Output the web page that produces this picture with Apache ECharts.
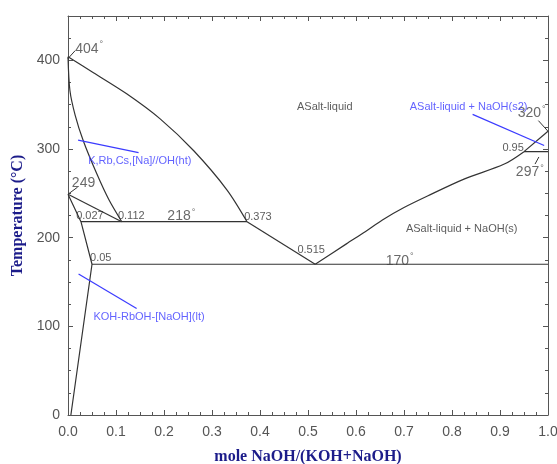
<!DOCTYPE html>
<html>
<head>
<meta charset="utf-8">
<script src="https://cdn.jsdelivr.net/npm/echarts@6/dist/echarts.min.js"></script>
<style>
  html, body { margin: 0; padding: 0; background: #fff; }
  #chart { width: 557px; height: 464px; }
</style>
</head>
<body>
<div id="chart"></div>
<script>
// phase boundaries, [mole fraction NaOH, temperature °C]
const liquidusK = [[0, 404], [0.053, 386], [0.123, 362], [0.192, 334], [0.262, 298], [0.331, 254], [0.373, 218]];
const liquidusMid = [[0.373, 218], [0.515, 170]];
const liquidusNa = [[0.515, 170], [0.58, 193], [0.62, 207], [0.655, 220], [0.70, 234], [0.749, 247], [0.825, 266], [0.909, 283], [0.95, 297]];
const liquidusNa2 = [[0.95, 297], [1.0, 320]];
const solidusHT = [[0, 404], [0.004, 366], [0.015, 338], [0.032, 309], [0.06, 272], [0.085, 243], [0.112, 218]];
const solvusHT = [[0, 249], [0.112, 218]];
const solvusLT = [[0, 249], [0.027, 218], [0.05, 170], [0.006, 0]];
const peritectic218 = [[0.027, 218], [0.373, 218]];
const eutectic170 = [[0.05, 170], [1.0, 170]];
const transition297 = [[0.95, 297], [1.0, 297]];

// leader lines for labels
const blackLeaders = [
  [[0, 402], [0.015, 411]],
  [[0, 249], [0.02, 257]],
  [[0.98, 332], [1.0, 320]],
  [[0.981, 291], [0.973, 283]]
];
const blueLeaders = [
  [[0.021, 310], [0.147, 296]],
  [[0.022, 159], [0.143, 120]],
  [[0.843, 339], [0.992, 304]]
];

// labels: [x, T, text]
const degreeLabels = [[0.015, 413, '404'], [0.207, 224, '218'], [0.662, 174, '170'], [0.933, 274, '297'], [0.937, 340, '320']];
const plainBigLabels = [[0.008, 262, '249']];
const fractionLabels = [[0.017, 224, '0.027'], [0.104, 224, '0.112'], [0.367, 223, '0.373'], [0.478, 186, '0.515'], [0.046, 177, '0.05'], [0.905, 301, '0.95']];
const regionLabels = [[0.477, 347, 'ASalt-liquid'], [0.704, 210, 'ASalt-liquid + NaOH(s)']];
const blueLabels = [[0.712, 347, 'ASalt-liquid + NaOH(s2)'], [0.042, 286, 'K,Rb,Cs,[Na]//OH(ht)'], [0.053, 111, 'KOH-RbOH-[NaOH](lt)']];

const xTicks = [0, 0.1, 0.2, 0.3, 0.4, 0.5, 0.6, 0.7, 0.8, 0.9, 1.0];
const yTicks = [0, 100, 200, 300, 400];

const FONT = '"Liberation Sans", Arial, sans-serif';
const SERIF = '"Liberation Serif", "DejaVu Serif", serif';
const LINE = '#333';
const BLUE = '#3b3bff';
const NAVY = '#1c1c8a';

const chart = echarts.init(document.getElementById('chart'));

const lineSeries = (data, color, width, smooth) => ({
  type: 'line',
  data: data,
  symbol: 'none',
  silent: true,
  smooth: smooth || false,
  lineStyle: { color: color || LINE, width: width || 1.2 },
  z: 2
});

const labelSeries = (rows, label) => ({
  type: 'scatter',
  symbolSize: 0,
  silent: true,
  data: rows.map(r => ({ value: [r[0], r[1]], name: r[2] })),
  label: Object.assign({ show: true, position: 'right', distance: 0 }, label),
  z: 5
});

const axisCommon = {
  type: 'value',
  axisLine: { show: true, onZero: false, lineStyle: { color: '#555', width: 1 } },
  axisTick: { show: true, inside: true, length: 5, lineStyle: { color: '#555' } },
  minorTick: { show: true, length: 3, splitNumber: 4, lineStyle: { color: '#555' } },
  splitLine: { show: false }
};

const series = [
  lineSeries(liquidusK, LINE, 1.2, 0.3),
  lineSeries(liquidusMid),
  lineSeries(liquidusNa, LINE, 1.2, 0.3),
  lineSeries(liquidusNa2),
  lineSeries(solidusHT, LINE, 1.2, 0.3),
  lineSeries(solvusHT),
  lineSeries(solvusLT),
  lineSeries(peritectic218),
  lineSeries(eutectic170),
  lineSeries(transition297)
];
blackLeaders.forEach(l => series.push(lineSeries(l, LINE, 1)));
blueLeaders.forEach(l => series.push(lineSeries(l, BLUE, 1.2)));

series.push(labelSeries(degreeLabels, {
  formatter: p => p.name + '{d|°}',
  fontFamily: FONT, fontSize: 14, color: '#444',
  rich: { d: { fontFamily: FONT, fontSize: 9, color: '#444', verticalAlign: 'top', padding: [0, 0, 8, 1] } }
}));
series.push(labelSeries(plainBigLabels, {
  formatter: p => p.name, fontFamily: FONT, fontSize: 14, color: '#444'
}));
series.push(labelSeries(fractionLabels, {
  formatter: p => p.name, fontFamily: FONT, fontSize: 11, color: '#333'
}));
series.push(labelSeries(regionLabels, {
  formatter: p => p.name, fontFamily: FONT, fontSize: 11, color: '#333'
}));
series.push(labelSeries(blueLabels, {
  formatter: p => p.name, fontFamily: FONT, fontSize: 11, color: BLUE
}));

chart.setOption({
  animation: false,
  backgroundColor: '#fff',
  grid: { left: 68, right: 9, top: 16, bottom: 49, containLabel: false, outerBoundsMode: 'none' },
  xAxis: [
    Object.assign({}, axisCommon, {
      min: 0, max: 1, interval: 0.1,
      axisLabel: {
        margin: 10, color: '#555', fontFamily: FONT, fontSize: 14,
        formatter: v => {
          const t = xTicks.find(k => Math.abs(k - v) < 1e-6);
          return t === undefined ? '' : t.toFixed(1);
        }
      },
      name: 'mole NaOH/(KOH+NaOH)',
      nameLocation: 'middle',
      nameGap: 34,
      nameTextStyle: { fontFamily: SERIF, fontWeight: 'bold', fontSize: 16, color: NAVY }
    }),
    Object.assign({}, axisCommon, {
      position: 'top',
      min: 0, max: 1, interval: 0.1,
      axisLabel: { show: false }
    })
  ],
  yAxis: [
    Object.assign({}, axisCommon, {
      min: 0, max: 450, interval: 100,
      axisLabel: {
        margin: 8, color: '#555', fontFamily: FONT, fontSize: 14,
        formatter: v => (yTicks.indexOf(v) >= 0 ? String(v) : '')
      },
      name: 'Temperature (°C)',
      nameLocation: 'middle',
      nameGap: 36,
      nameTextStyle: { fontFamily: SERIF, fontWeight: 'bold', fontSize: 16, color: NAVY }
    }),
    Object.assign({}, axisCommon, {
      position: 'right',
      min: 0, max: 450, interval: 100,
      axisLabel: { show: false }
    })
  ],
  series: series
});
</script>
</body>
</html>
